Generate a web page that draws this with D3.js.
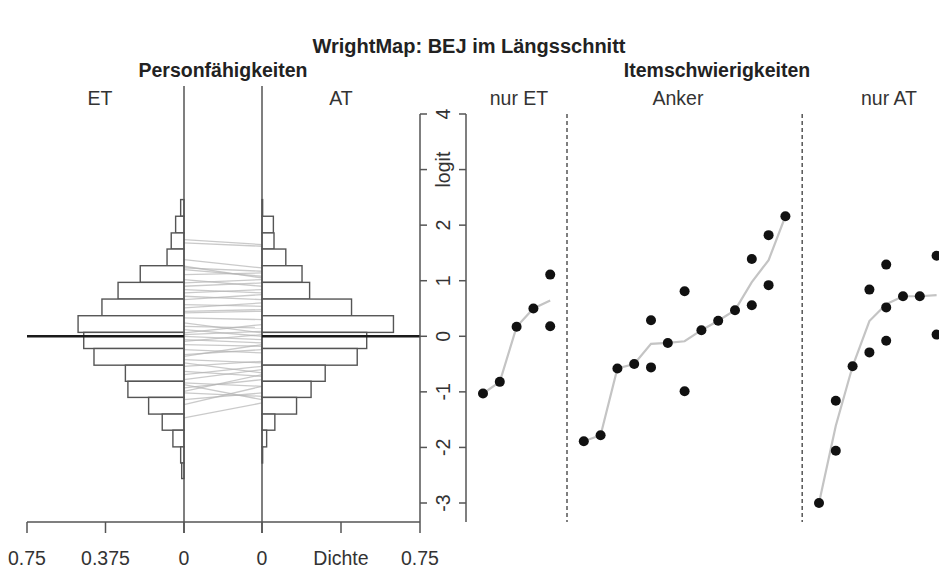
<!DOCTYPE html>
<html>
<head>
<meta charset="utf-8">
<script src="https://cdn.jsdelivr.net/npm/d3@7/dist/d3.min.js"></script>
<style>
  body { margin: 0; background: #fff; }
  svg { display: block; font-family: "Liberation Sans", Arial, Helvetica, sans-serif; }
</style>
</head>
<body>
<div id="chart"></div>
<script>
// Histogramm-Klassengrenzen (logit), von oben nach unten
const binEdges = [2.46, 2.16, 1.86, 1.57, 1.27, 0.97, 0.67, 0.37, 0.07, -0.22, -0.52, -0.81, -1.10, -1.40, -1.69, -1.99, -2.28, -2.56];
// Dichte je Klasse, von oben nach unten
const densityET = [0.016, 0.040, 0.061, 0.081, 0.209, 0.315, 0.392, 0.506, 0.479, 0.430, 0.280, 0.268, 0.169, 0.104, 0.053, 0.016, 0.011];
const densityAT = [0.003, 0.054, 0.057, 0.113, 0.190, 0.226, 0.425, 0.624, 0.497, 0.452, 0.300, 0.233, 0.164, 0.061, 0.022, 0.003, 0.000];
const meanLogit = 0;

// Personen: Fähigkeit ET -> AT
const personET = [1.74, 1.68, 1.38, 1.26, 1.23, 1.20, 1.11, 1.02, 0.96, 0.90, 0.84, 0.78, 0.72, 0.66, 0.57, 0.51, 0.45, 0.42, 0.33, 0.24, 0.18, 0.12, 0.06, 0.03, 0.00, -0.06, -0.09, -0.15, -0.24, -0.33, -0.36, -0.42, -0.48, -0.54, -0.63, -0.69, -0.78, -0.84, -0.87, -0.93, -0.99, -1.02, -1.14, -1.23, -1.47];
const personAT = [1.65, 1.62, 1.23, 1.05, 1.17, 1.08, 1.14, 0.90, 1.02, 0.96, 0.78, 0.84, 0.66, 0.75, 0.54, 0.60, 0.48, 0.45, 0.30, 0.06, 0.15, 0.00, 0.21, 0.09, -0.06, -0.12, 0.03, -0.18, -0.30, -0.24, -0.15, -0.48, -0.66, -0.45, -0.72, -0.54, -0.60, -0.90, -1.14, -0.78, -0.69, -1.08, -1.02, -0.90, -1.20];

// Items: Spalte + Schwierigkeit
const itemColET = [0, 1, 2, 3, 4, 4];
const itemValET = [-1.03, -0.82, 0.17, 0.50, 1.11, 0.18];
const itemColAnker = [6, 7, 8, 9, 10, 10, 11, 12, 12, 13, 14, 15, 16, 16, 17, 17, 18];
const itemValAnker = [-1.89, -1.78, -0.58, -0.50, 0.29, -0.56, -0.12, 0.81, -0.99, 0.11, 0.28, 0.47, 1.39, 0.56, 1.82, 0.92, 2.16];
const itemColAT = [20, 21, 21, 22, 23, 23, 24, 24, 24, 25, 26, 27, 27];
const itemValAT = [-3.00, -1.16, -2.06, -0.54, 0.84, -0.29, 1.29, 0.52, -0.08, 0.72, 0.72, 1.45, 0.03];

const logitTicks = [4, 3, 2, 1, 0, -1, -2, -3];
const logitLabels = ["4", "logit", "2", "1", "0", "-1", "-2", "-3"];
const dichteTicks = [0, 0.375, 0.75];

const width = 939, height = 569;
const ink = "#333333";
const gridStroke = "#555555";
const fs = 19.5;

const svg = d3.select("#chart")
              .append("svg")
              .attr("width", width)
              .attr("height", height);

const y = d3.scaleLinear().domain([-3, 4]).range([503, 114]);
const xLeft = d3.scaleLinear().domain([0, 0.75]).range([184, 27]);
const xRight = d3.scaleLinear().domain([0, 0.75]).range([262, 420]);
const xItem = d3.scaleLinear().domain([0, 27]).range([483, 483 + 27 * 16.8]);

// Titel
svg.append("text")
   .attr("x", 469).attr("y", 53)
   .attr("text-anchor", "middle")
   .attr("font-size", 20).attr("font-weight", "bold").attr("fill", "#222")
   .text("WrightMap: BEJ im Längsschnitt");

const heads = [
  { t: "Personfähigkeiten", x: 223, y: 77, b: true },
  { t: "Itemschwierigkeiten", x: 717, y: 77, b: true },
  { t: "ET", x: 100, y: 105 },
  { t: "AT", x: 341, y: 105 },
  { t: "nur ET", x: 519, y: 105 },
  { t: "Anker", x: 678, y: 105 },
  { t: "nur AT", x: 889, y: 105 }
];
svg.selectAll(".head")
   .data(heads)
   .enter()
   .append("text")
   .attr("x", d => d.x).attr("y", d => d.y)
   .attr("text-anchor", "middle")
   .attr("font-size", fs)
   .attr("font-weight", d => d.b ? "bold" : "normal")
   .attr("fill", d => d.b ? "#222" : ink)
   .text(d => d.t);

// Personen-Verbindungslinien
svg.append("g")
   .selectAll("line")
   .data(personET.map((v, i) => [v, personAT[i]]))
   .enter()
   .append("line")
   .attr("x1", xLeft(0)).attr("x2", xRight(0))
   .attr("y1", d => y(d[0])).attr("y2", d => y(d[1]))
   .attr("stroke", "#b4b4b4")
   .attr("stroke-opacity", 0.7)
   .attr("stroke-width", 1.3);

// Histogramme
const bins = d3.range(binEdges.length - 1).map(i => ({
  top: binEdges[i], bottom: binEdges[i + 1], et: densityET[i], at: densityAT[i]
}));

svg.append("g")
   .selectAll("rect")
   .data(bins)
   .enter()
   .append("rect")
   .attr("x", d => xLeft(d.et))
   .attr("y", d => y(d.top))
   .attr("width", d => xLeft(0) - xLeft(d.et))
   .attr("height", d => y(d.bottom) - y(d.top))
   .attr("fill", "#fff")
   .attr("stroke", gridStroke)
   .attr("stroke-width", 1.4);

svg.append("g")
   .selectAll("rect")
   .data(bins.filter(d => d.at > 0))
   .enter()
   .append("rect")
   .attr("x", xRight(0))
   .attr("y", d => y(d.top))
   .attr("width", d => xRight(d.at) - xRight(0))
   .attr("height", d => y(d.bottom) - y(d.top))
   .attr("fill", "#fff")
   .attr("stroke", gridStroke)
   .attr("stroke-width", 1.4);

// Basislinien
[xLeft(0), xRight(0)].forEach(x => {
  svg.append("line")
     .attr("x1", x).attr("x2", x).attr("y1", 86).attr("y2", 533)
     .attr("stroke", gridStroke).attr("stroke-width", 1.5);
});

// Mittelwertlinie
[[xLeft(0.75), xLeft(0)], [xRight(0), xRight(0.75)]].forEach(r => {
  svg.append("line")
     .attr("x1", r[0]).attr("x2", r[1])
     .attr("y1", y(meanLogit)).attr("y2", y(meanLogit))
     .attr("stroke", "#1a1a1a").attr("stroke-width", 2.5);
});

// Dichte-Achse
const axisY = 522;
svg.append("line")
   .attr("x1", xLeft(0.75)).attr("x2", xRight(0.75))
   .attr("y1", axisY).attr("y2", axisY)
   .attr("stroke", gridStroke).attr("stroke-width", 1.5);

const dTicks = dichteTicks.map(v => ({ x: xLeft(v), lab: String(v) }))
  .concat(dichteTicks.map(v => ({ x: xRight(v), lab: v === 0.375 ? "Dichte" : String(v) })));

svg.selectAll(".dtick")
   .data(dTicks)
   .enter()
   .append("line")
   .attr("x1", d => d.x).attr("x2", d => d.x)
   .attr("y1", axisY).attr("y2", 533)
   .attr("stroke", gridStroke).attr("stroke-width", 1.5);

svg.selectAll(".dlab")
   .data(dTicks)
   .enter()
   .append("text")
   .attr("x", d => d.x).attr("y", 565)
   .attr("text-anchor", "middle")
   .attr("font-size", fs).attr("fill", ink)
   .text(d => d.lab);

// Logit-Achse (zwei Linien, Ticks nach innen)
const axL = 420, axR = 466;
[axL, axR].forEach(x => {
  svg.append("line")
     .attr("x1", x).attr("x2", x).attr("y1", y(4)).attr("y2", axisY)
     .attr("stroke", gridStroke).attr("stroke-width", 1.5);
});
svg.selectAll(".ltickL")
   .data(logitTicks)
   .enter()
   .append("line")
   .attr("x1", axL).attr("x2", axL + 7)
   .attr("y1", d => y(d)).attr("y2", d => y(d))
   .attr("stroke", gridStroke).attr("stroke-width", 1.5);
svg.selectAll(".ltickR")
   .data(logitTicks)
   .enter()
   .append("line")
   .attr("x1", axR - 7).attr("x2", axR)
   .attr("y1", d => y(d)).attr("y2", d => y(d))
   .attr("stroke", gridStroke).attr("stroke-width", 1.5);
svg.selectAll(".llab")
   .data(logitTicks)
   .enter()
   .append("text")
   .attr("transform", d => `translate(${(axL + axR) / 2},${y(d)}) rotate(-90)`)
   .attr("text-anchor", "middle")
   .attr("dominant-baseline", "central")
   .attr("font-size", fs).attr("fill", ink)
   .text((d, i) => logitLabels[i]);

// Trennlinien
[5, 19].forEach(c => {
  svg.append("line")
     .attr("x1", xItem(c)).attr("x2", xItem(c))
     .attr("y1", y(4)).attr("y2", axisY)
     .attr("stroke", gridStroke).attr("stroke-width", 1.5)
     .attr("stroke-dasharray", "4,3");
});

// Items: Mittelwertlinie je Gruppe + Punkte
const line = d3.line().x(d => xItem(d[0])).y(d => y(d[1]));
[[itemColET, itemValET], [itemColAnker, itemValAnker], [itemColAT, itemValAT]].forEach(g => {
  const cols = g[0], vals = g[1];
  const means = d3.rollups(cols.map((c, i) => [c, vals[i]]), v => d3.mean(v, d => d[1]), d => d[0])
                  .sort((a, b) => a[0] - b[0]);
  svg.append("path")
     .attr("d", line(means))
     .attr("fill", "none")
     .attr("stroke", "#c4c4c4")
     .attr("stroke-width", 2.2);
  svg.append("g")
     .selectAll("circle")
     .data(cols.map((c, i) => [c, vals[i]]))
     .enter()
     .append("circle")
     .attr("cx", d => xItem(d[0]))
     .attr("cy", d => y(d[1]))
     .attr("r", 5)
     .attr("fill", "#111");
});
</script>
</body>
</html>
